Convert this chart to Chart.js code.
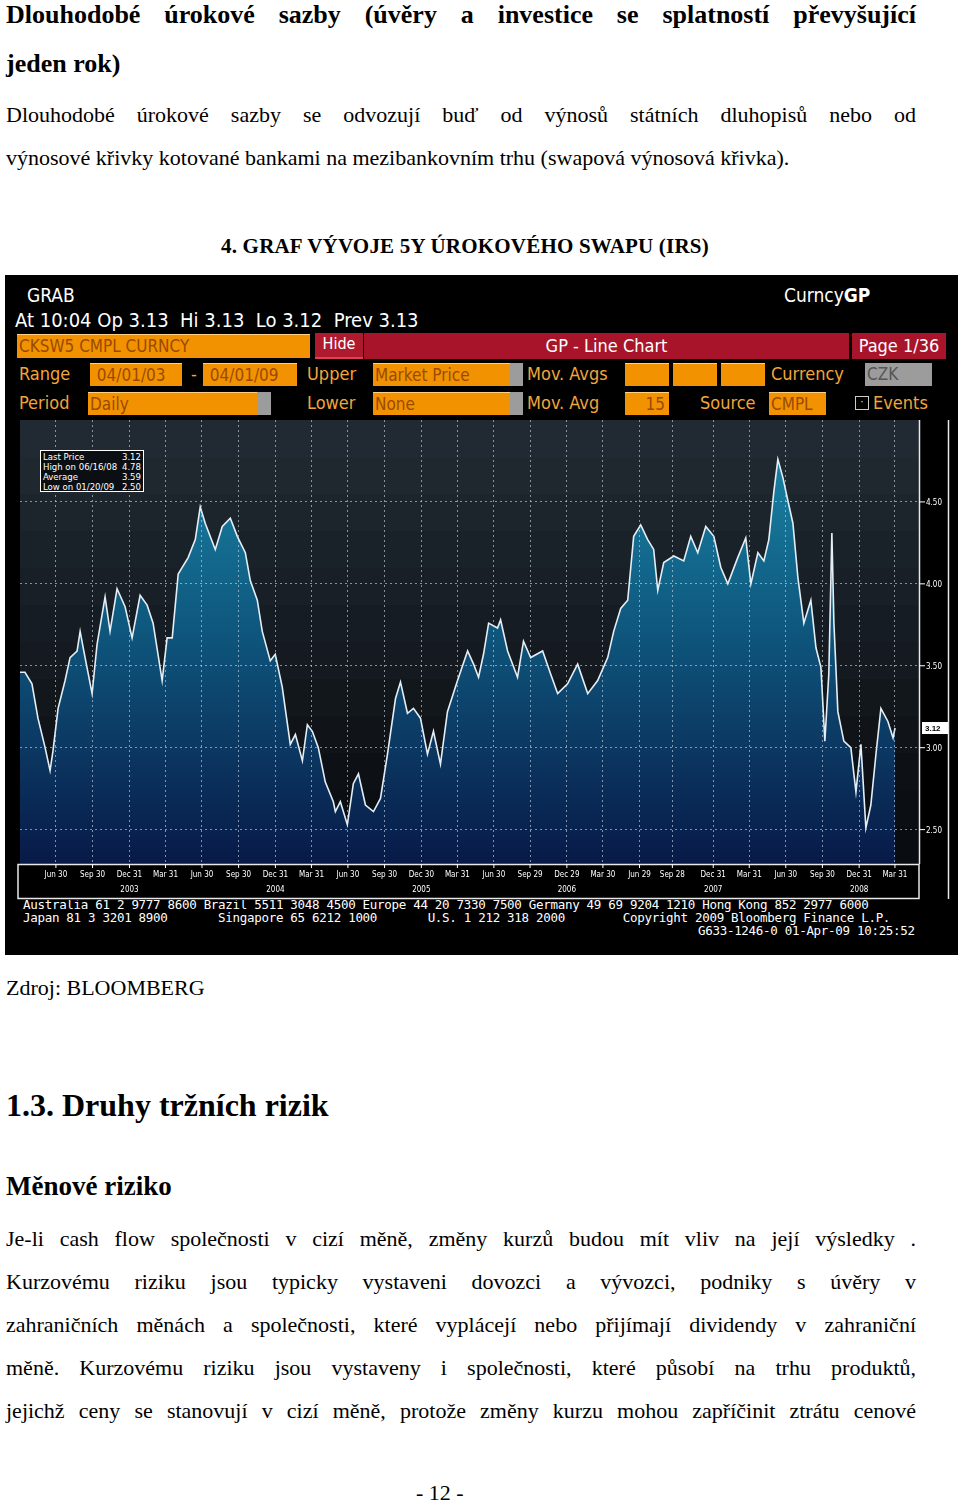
<!DOCTYPE html>
<html><head><meta charset="utf-8">
<script src="https://cdn.jsdelivr.net/npm/chart.js@4/dist/chart.umd.min.js"></script>
<style>
body{margin:0;width:960px;height:1502px;background:#fff;position:relative;font-family:"Liberation Serif","Times New Roman",serif;color:#000;overflow:hidden}
.a{position:absolute;white-space:nowrap}
.j{position:absolute;left:6px;width:910px;text-align:justify;text-align-last:justify;white-space:nowrap}
.b{font-weight:bold}
#bb{position:absolute;left:5px;top:275px;width:953px;height:680px;background:#000;font-family:"DejaVu Sans Condensed","Liberation Sans Narrow","DejaVu Sans",sans-serif}
#bb .a{color:#fff}
.o{position:absolute;background:#f29200;color:#9a4a00;font-size:17px;line-height:22px;padding-left:2px;box-sizing:border-box;overflow:hidden;border-top:1px solid #ffd080}
.l{position:absolute;color:#f2a53a!important;font-size:18px;line-height:22px;white-space:nowrap}
.g{position:absolute;background:#9c9c9c}
.f{position:absolute;font-family:"DejaVu Sans Mono",monospace;font-size:12.5px;color:#fff;white-space:pre;letter-spacing:-0.3px}
</style></head><body>
<div class="j b" style="top:0;font-size:26px;line-height:30px">Dlouhodobé úrokové sazby (úvěry a investice se splatností převyšující</div>
<div class="a b" style="left:6px;top:49px;font-size:26px">jeden rok)</div>
<div class="j" style="top:102px;font-size:22px">Dlouhodobé úrokové sazby se odvozují buď od výnosů státních dluhopisů nebo od</div>
<div class="a" style="left:6px;top:145px;font-size:22px">výnosové křivky kotované bankami na mezibankovním trhu (swapová výnosová křivka).</div>
<div class="a b" style="left:221px;top:234px;font-size:21px;letter-spacing:0.2px">4. GRAF VÝVOJE 5Y ÚROKOVÉHO SWAPU (IRS)</div>

<div id="bb">
 <div class="a" style="left:22px;top:9px;font-size:19px">GRAB</div>
 <div class="a" style="left:779px;top:9px;font-size:19px">Curncy<b>GP</b></div>
 <div class="a" style="left:10px;top:33px;font-size:20px">At 10:04 Op 3.13&nbsp; Hi 3.13&nbsp; Lo 3.12&nbsp; Prev 3.13</div>
 <div class="o" style="left:12px;top:59px;width:293px;height:24px">CKSW5 CMPL CURNCY</div>
 <div class="a" style="left:310px;top:58px;width:48px;height:24px;background:#b01a2e;border-bottom:2px solid #e04050;font-size:16px;text-align:center;line-height:22px">Hide</div>
 <div class="a" style="left:359px;top:58px;width:485px;height:26px;background:#a8142a;font-size:18px;text-align:center;line-height:26px">GP - Line Chart</div>
 <div class="a" style="left:847px;top:58px;width:94px;height:26px;background:#a8142a;font-size:18px;text-align:center;line-height:26px">Page 1/36</div>
 <div class="l" style="left:14px;top:88px">Range</div>
 <div class="o" style="left:85px;top:88px;width:92px;height:23px">&nbsp;04/01/03</div>
 <div class="l" style="left:186px;top:88px">-</div>
 <div class="o" style="left:198px;top:88px;width:94px;height:23px">&nbsp;04/01/09</div>
 <div class="l" style="left:302px;top:88px">Upper</div>
 <div class="o" style="left:368px;top:88px;width:138px;height:23px">Market Price</div><div class="g" style="left:505px;top:88px;width:13px;height:23px"></div>
 <div class="l" style="left:522px;top:88px">Mov. Avgs</div>
 <div class="o" style="left:620px;top:88px;width:44px;height:23px"></div>
 <div class="o" style="left:668px;top:88px;width:44px;height:23px"></div>
 <div class="o" style="left:716px;top:88px;width:44px;height:23px"></div>
 <div class="l" style="left:766px;top:88px">Currency</div>
 <div class="g" style="left:860px;top:88px;width:65px;height:23px;color:#555;font-size:17px;line-height:22px;padding-left:2px">CZK</div>
 <div class="l" style="left:14px;top:117px">Period</div>
 <div class="o" style="left:83px;top:117px;width:170px;height:23px">Daily</div><div class="g" style="left:252px;top:117px;width:14px;height:23px"></div>
 <div class="l" style="left:302px;top:117px">Lower</div>
 <div class="o" style="left:368px;top:117px;width:138px;height:23px">None</div><div class="g" style="left:505px;top:117px;width:13px;height:23px"></div>
 <div class="l" style="left:522px;top:117px">Mov. Avg</div>
 <div class="o" style="left:620px;top:117px;width:44px;height:23px;text-align:right;padding-right:4px">15</div>
 <div class="l" style="left:695px;top:117px">Source</div>
 <div class="o" style="left:764px;top:117px;width:57px;height:23px">CMPL</div>
 <div class="a" style="left:850px;top:121px;width:12px;height:12px;border:1px solid #ccc;font-size:10px;line-height:10px;text-align:center">·</div>
 <div class="l" style="left:868px;top:117px">Events</div>
 <div class="f" style="left:18px;top:622px">Australia 61 2 9777 8600 Brazil 5511 3048 4500 Europe 44 20 7330 7500 Germany 49 69 9204 1210 Hong Kong 852 2977 6000</div>
 <div class="f" style="left:18px;top:635px">Japan 81 3 3201 8900       Singapore 65 6212 1000       U.S. 1 212 318 2000        Copyright 2009 Bloomberg Finance L.P.</div>
 <div class="f" style="left:693px;top:648px">G633-1246-0 01-Apr-09 10:25:52</div>
</div>
<div style="position:absolute;left:15px;top:416px;width:936px;height:484px"><canvas id="c"></canvas></div>
<div class="a" style="left:40px;top:450px;width:104px;height:42px;border:1px solid #fff;background:#0b0f14;color:#fff;font-family:'Liberation Sans Narrow','DejaVu Sans Condensed',sans-serif;font-size:9.5px;line-height:10px;padding:1px 2px;box-sizing:border-box">
<div style="display:flex;justify-content:space-between"><span>Last Price</span><span>3.12</span></div>
<div style="display:flex;justify-content:space-between"><span>High on 06/16/08</span><span>4.78</span></div>
<div style="display:flex;justify-content:space-between"><span>Average</span><span>3.59</span></div>
<div style="display:flex;justify-content:space-between"><span>Low on 01/20/09</span><span>2.50</span></div>
</div>

<div class="a" style="left:6px;top:975px;font-size:22px">Zdroj: BLOOMBERG</div>
<div class="a b" style="left:6px;top:1087px;font-size:32px">1.3. Druhy tržních rizik</div>
<div class="a b" style="left:6px;top:1171px;font-size:27px">Měnové riziko</div>
<div class="j" style="top:1226px;font-size:22px">Je-li cash flow společnosti v cizí měně, změny kurzů budou mít vliv na její výsledky .</div>
<div class="j" style="top:1269px;font-size:22px">Kurzovému riziku jsou typicky vystaveni dovozci a vývozci, podniky s úvěry v</div>
<div class="j" style="top:1312px;font-size:22px">zahraničních měnách a společnosti, které vyplácejí nebo přijímají dividendy v zahraniční</div>
<div class="j" style="top:1355px;font-size:22px">měně. Kurzovému riziku jsou vystaveny i společnosti, které působí na trhu produktů,</div>
<div class="j" style="top:1398px;font-size:22px">jejichž ceny se stanovují v cizí měně, protože změny kurzu mohou zapříčinit ztrátu cenové</div>
<div class="a" style="left:416px;top:1480px;font-size:22px">- 12 -</div>

<script>
const dates = [2003.250,2003.284,2003.332,2003.373,2003.422,2003.456,2003.476,2003.511,2003.559,2003.593,2003.641,2003.662,2003.696,2003.744,2003.778,2003.833,2003.867,2003.915,2003.970,2004.018,2004.073,2004.121,2004.162,2004.224,2004.258,2004.293,2004.334,2004.402,2004.451,2004.485,2004.519,2004.588,2004.636,2004.691,2004.739,2004.794,2004.828,2004.876,2004.910,2004.965,2004.999,2005.047,2005.102,2005.137,2005.185,2005.219,2005.253,2005.294,2005.342,2005.397,2005.411,2005.445,2005.493,2005.534,2005.569,2005.617,2005.672,2005.720,2005.768,2005.823,2005.857,2005.905,2005.946,2005.994,2006.042,2006.083,2006.131,2006.179,2006.248,2006.317,2006.358,2006.392,2006.426,2006.461,2006.522,2006.543,2006.591,2006.659,2006.700,2006.749,2006.831,2006.886,2006.934,2007.002,2007.071,2007.140,2007.208,2007.277,2007.318,2007.366,2007.414,2007.455,2007.503,2007.551,2007.592,2007.620,2007.661,2007.730,2007.798,2007.846,2007.894,2007.949,2008.004,2008.052,2008.100,2008.168,2008.223,2008.258,2008.306,2008.347,2008.381,2008.415,2008.443,2008.477,2008.511,2008.546,2008.580,2008.621,2008.669,2008.704,2008.738,2008.765,2008.792,2008.813,2008.827,2008.854,2008.895,2008.943,2008.978,2009.012,2009.046,2009.080,2009.115,2009.149,2009.197,2009.232,2009.246];
const rates = [3.46,3.46,3.39,3.18,3.00,2.86,2.98,3.24,3.41,3.55,3.59,3.71,3.55,3.33,3.63,3.92,3.71,3.97,3.86,3.67,3.93,3.87,3.76,3.41,3.67,3.67,4.06,4.16,4.27,4.47,4.37,4.21,4.35,4.40,4.29,4.19,4.02,3.90,3.71,3.53,3.57,3.37,3.02,3.08,2.92,3.14,3.10,3.00,2.79,2.67,2.61,2.67,2.53,2.78,2.84,2.65,2.61,2.69,2.96,3.30,3.40,3.21,3.24,3.18,2.96,3.10,2.90,3.22,3.41,3.59,3.51,3.43,3.57,3.76,3.73,3.78,3.59,3.43,3.65,3.55,3.59,3.45,3.33,3.39,3.51,3.33,3.41,3.55,3.71,3.85,3.90,4.29,4.36,4.27,4.21,3.96,4.13,4.17,4.14,4.29,4.19,4.35,4.29,4.10,4.00,4.16,4.28,4.00,4.19,4.14,4.27,4.56,4.76,4.65,4.51,4.37,4.04,3.76,3.90,3.61,3.49,3.04,3.45,4.31,3.76,3.22,3.04,3.00,2.73,3.02,2.51,2.65,2.96,3.24,3.16,3.06,3.12];
const tickPos = [2003.496,2003.747,2004.0,2004.247,2004.497,2004.748,2005.0,2005.247,2005.497,2005.748,2006.0,2006.247,2006.497,2006.745,2006.997,2007.244,2007.495,2007.72,2008.0,2008.247,2008.497,2008.748,2009.0,2009.245];
const tickText = ["Jun 30","Sep 30","Dec 31","Mar 31","Jun 30","Sep 30","Dec 31","Mar 31","Jun 30","Sep 30","Dec 30","Mar 31","Jun 30","Sep 29","Dec 29","Mar 30","Jun 29","Sep 28","Dec 31","Mar 31","Jun 30","Sep 30","Dec 31","Mar 31"];
const yearText = {2:"2003",6:"2004",10:"2005",14:"2006",18:"2007",22:"2008"};
const yTicks = [2.5,3.0,3.5,4.0,4.5];
const lastPrice = 3.12;

const bgPlugin = {
  id:'bg',
  beforeDraw(ch){
    const {ctx, chartArea:a} = ch;
    ctx.save();
    ctx.fillStyle='#000';ctx.fillRect(0,0,ch.width,ch.height);
    const n=12, h=(a.bottom-a.top)/n;
    for(let i=0;i<n;i++){
      const t=i/(n-1);
      const c=[Math.round(33-t*24),Math.round(42-t*30),Math.round(50-t*34)];
      ctx.fillStyle=`rgb(${c})`;ctx.fillRect(a.left,a.top+i*h,a.right-a.left,h+1);
    }
    ctx.restore();
  },
  afterDraw(ch){
    const {ctx, chartArea:a, scales:{x,y}} = ch;
    ctx.save();
    ctx.strokeStyle='#e8e8e8';ctx.lineWidth=1.5;
    ctx.strokeRect(a.left-2,a.bottom+0.5,a.right-a.left+2,34);
    ctx.beginPath();ctx.moveTo(a.right+0.5,a.top);ctx.lineTo(a.right+0.5,a.bottom);
    ctx.moveTo(a.right+29.5,a.top);ctx.lineTo(a.right+29.5,a.bottom+35);ctx.stroke();
    ctx.fillStyle='#fff';ctx.textAlign='center';
    ctx.font='8px "Liberation Sans Narrow","DejaVu Sans Condensed",sans-serif';
    tickPos.forEach((p,i)=>{
      const px=x.getPixelForValue(p);
      ctx.fillRect(px-0.5,a.bottom,1,4);
      ctx.fillText(tickText[i],px,a.bottom+13);
      if(yearText[i]) ctx.fillText(yearText[i],px,a.bottom+28);
    });
    ctx.textAlign='left';
    yTicks.forEach(v=>{
      const py=y.getPixelForValue(v);
      ctx.fillRect(a.right,py-0.5,6,1);
      ctx.fillText(v.toFixed(2),a.right+7,py+3);
    });
    const py=y.getPixelForValue(lastPrice);
    ctx.fillRect(a.right+3,py-6,26,12);
    ctx.fillStyle='#000';ctx.font='bold 8px sans-serif';ctx.fillText(lastPrice.toFixed(2),a.right+6,py+3);
    ctx.restore();
  }
};

const ctx = document.getElementById('c').getContext('2d');
const grad = ctx.createLinearGradient(0,0,0,446);
grad.addColorStop(0,'#1c8cac');grad.addColorStop(0.45,'#0f5a80');grad.addColorStop(1,'#081a48');
new Chart(ctx,{
  type:'line',
  data:{datasets:[{data:dates.map((d,i)=>({x:d,y:rates[i]})),borderColor:'#e4eef4',borderWidth:1.6,backgroundColor:grad,fill:'start',pointRadius:0,tension:0}]},
  plugins:[bgPlugin],
  options:{
    responsive:true,maintainAspectRatio:false,animation:false,
    layout:{padding:{left:5,right:0,top:4,bottom:0}},
    plugins:{legend:{display:false},tooltip:{enabled:false}},
    scales:{
      x:{type:'linear',min:2003.25,max:2009.41,
        afterBuildTicks(s){s.ticks=tickPos.map(v=>({value:v}));},
        ticks:{display:false},
        grid:{color:'rgba(210,220,230,0.6)',drawTicks:false,lineWidth:1,z:1},border:{display:false,dash:[2,3]},
        afterFit(s){s.height=36;}},
      y:{position:'right',min:2.29,max:5.0,
        afterBuildTicks(s){s.ticks=yTicks.map(v=>({value:v}));},
        ticks:{display:false},
        grid:{color:'rgba(210,220,230,0.6)',drawTicks:false,z:1},border:{display:false,dash:[2,3]},
        afterFit(s){s.width=32;}}
    }
  }
});
</script>
</body></html>
